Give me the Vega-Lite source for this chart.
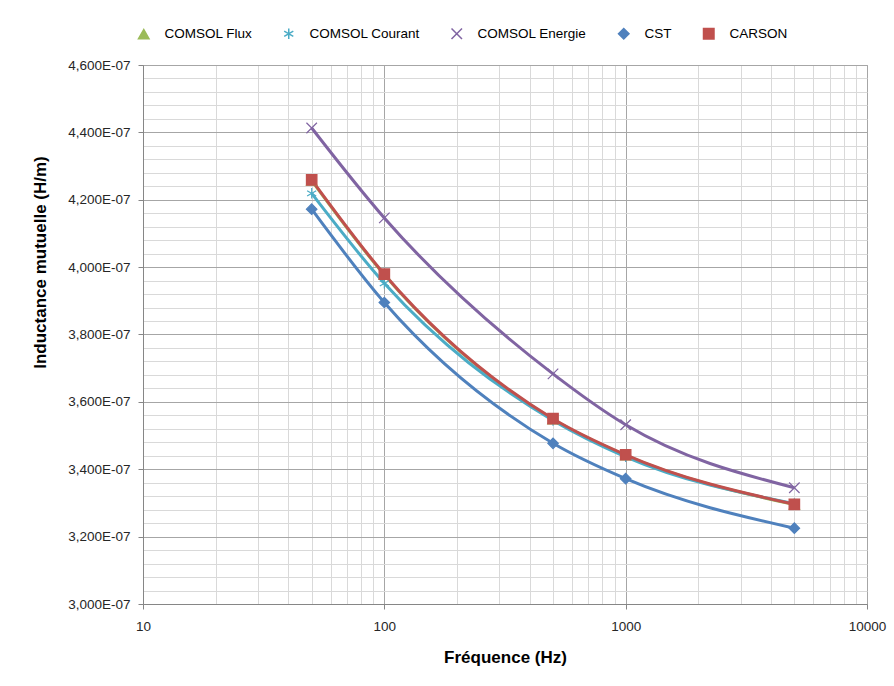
{
  "$schema": "https://vega.github.io/schema/vega-lite/v6.json",
  "width": 724,
  "height": 539,
  "autosize": "none",
  "padding": {"left": 143, "top": 65, "right": 27, "bottom": 82},
  "background": "white",
  "config": {
    "view": {"stroke": "#a6a6a6", "strokeWidth": 1},
    "font": "Liberation Sans"
  },
  "data": {
    "values": [
      {"series": "COMSOL Flux", "f": 50, "L": 4.257e-7},
      {"series": "COMSOL Flux", "f": 100, "L": 3.977e-7},
      {"series": "COMSOL Flux", "f": 500, "L": 3.548e-7},
      {"series": "COMSOL Flux", "f": 1000, "L": 3.441e-7},
      {"series": "COMSOL Flux", "f": 5000, "L": 3.295e-7},
      {"series": "COMSOL Courant", "f": 50, "L": 4.219e-7},
      {"series": "COMSOL Courant", "f": 100, "L": 3.952e-7},
      {"series": "COMSOL Courant", "f": 500, "L": 3.545e-7},
      {"series": "COMSOL Courant", "f": 1000, "L": 3.437e-7},
      {"series": "COMSOL Courant", "f": 5000, "L": 3.298e-7},
      {"series": "COMSOL Energie", "f": 50, "L": 4.413e-7},
      {"series": "COMSOL Energie", "f": 100, "L": 4.146e-7},
      {"series": "COMSOL Energie", "f": 500, "L": 3.683e-7},
      {"series": "COMSOL Energie", "f": 1000, "L": 3.532e-7},
      {"series": "COMSOL Energie", "f": 5000, "L": 3.345e-7},
      {"series": "CST", "f": 50, "L": 4.172e-7},
      {"series": "CST", "f": 100, "L": 3.895e-7},
      {"series": "CST", "f": 500, "L": 3.477e-7},
      {"series": "CST", "f": 1000, "L": 3.372e-7},
      {"series": "CST", "f": 5000, "L": 3.225e-7},
      {"series": "CARSON", "f": 50, "L": 4.259e-7},
      {"series": "CARSON", "f": 100, "L": 3.979e-7},
      {"series": "CARSON", "f": 500, "L": 3.550e-7},
      {"series": "CARSON", "f": 1000, "L": 3.443e-7},
      {"series": "CARSON", "f": 5000, "L": 3.296e-7}
    ]
  },
  "encoding": {
    "x": {
      "field": "f", "type": "quantitative",
      "scale": {"type": "log", "domain": [10, 10000], "nice": false},
      "axis": {
        "title": "Fréquence (Hz)",
        "titleFontSize": 17, "titleFontWeight": "bold", "titleColor": "#000", "titlePadding": 17,
        "values": [10,20,30,40,50,60,70,80,90,100,200,300,400,500,600,700,800,900,1000,2000,3000,4000,5000,6000,7000,8000,9000,10000],
        "labelExpr": "abs(log(datum.value)/LN10 - round(log(datum.value)/LN10)) < 1e-6 ? format(datum.value, 'd') : ''",
        "labelFontSize": 13.5, "labelColor": "#262626", "labelPadding": 10, "labelFlush": false,
        "domainColor": "#868686",
        "tickColor": "#868686",
        "tickSize": {"condition": {"test": "abs(log(datum.value)/LN10 - round(log(datum.value)/LN10)) < 1e-6", "value": 5}, "value": 0},
        "grid": true,
        "gridColor": {"condition": {"test": "abs(log(datum.value)/LN10 - round(log(datum.value)/LN10)) < 1e-6", "value": "#a6a6a6"}, "value": "#d9d9d9"},
        "gridOpacity": 1
      }
    },
    "y": {
      "field": "L", "type": "quantitative",
      "scale": {"domain": [3.0e-7, 4.6e-7], "nice": false, "zero": false},
      "axis": {
        "title": "Inductance mutuelle (H/m)",
        "titleFontSize": 17, "titleFontWeight": "bold", "titleColor": "#000",
        "titleX": -94, "titleY": 197,
        "values": [3.0e-7,3.04e-7,3.08e-7,3.12e-7,3.16e-7,3.2e-7,3.24e-7,3.28e-7,3.32e-7,3.36e-7,3.4e-7,3.44e-7,3.48e-7,3.52e-7,3.56e-7,3.6e-7,3.64e-7,3.68e-7,3.72e-7,3.76e-7,3.8e-7,3.84e-7,3.88e-7,3.92e-7,3.96e-7,4.0e-7,4.04e-7,4.08e-7,4.12e-7,4.16e-7,4.2e-7,4.24e-7,4.28e-7,4.32e-7,4.36e-7,4.4e-7,4.44e-7,4.48e-7,4.52e-7,4.56e-7,4.6e-7],
        "labelExpr": "abs(datum.value*5e7 - round(datum.value*5e7)) < 1e-4 ? replace(format(datum.value*1e7, '.3f'), '.', ',') + 'E-07' : ''",
        "labelFontSize": 13.5, "labelColor": "#262626", "labelPadding": 8,
        "domainColor": "#868686",
        "tickColor": "#868686",
        "tickSize": {"condition": {"test": "abs(datum.value*5e7 - round(datum.value*5e7)) < 1e-4", "value": 5}, "value": 0},
        "grid": true,
        "gridColor": {"condition": {"test": "abs(datum.value*5e7 - round(datum.value*5e7)) < 1e-4", "value": "#a6a6a6"}, "value": "#d9d9d9"},
        "gridOpacity": 1
      }
    },
    "color": {
      "field": "series", "type": "nominal",
      "scale": {
        "domain": ["COMSOL Flux", "COMSOL Courant", "COMSOL Energie", "CST", "CARSON"],
        "range": ["#9BBB59", "#4BACC6", "#8064A2", "#4F81BD", "#C0504D"]
      },
      "sort": null,
      "legend": {
        "title": null,
        "orient": "none",
        "direction": "horizontal",
        "legendX": -6,
        "legendY": -38,
        "padding": 0,
        "labelFontSize": 13.5,
        "labelColor": "#000",
        "labelOffset": 14,
        "columnPadding": 28,
        "symbolSize": 110,
        "symbolStrokeWidth": 1.5,
        "symbolOpacity": 1
      }
    }
  },
  "layer": [
    {
      "mark": {"type": "line", "interpolate": "monotone", "strokeWidth": 3},
      "encoding": {"order": {"field": "f", "type": "quantitative"}}
    },
    {
      "mark": {"type": "point", "filled": true, "size": 110, "strokeWidth": 1.2, "opacity": 1},
      "encoding": {
        "shape": {
          "field": "series", "type": "nominal",
          "scale": {
            "domain": ["COMSOL Flux", "COMSOL Courant", "COMSOL Energie", "CST", "CARSON"],
            "range": [
              "triangle-up",
              "M0,-1V1M-0.87,-0.5L0.87,0.5M-0.87,0.5L0.87,-0.5",
              "M-1,-1L1,1M-1,1L1,-1",
              "diamond",
              "square"
            ]
          },
          "legend": null
        },
        "stroke": {
          "field": "series", "type": "nominal",
          "scale": {
            "domain": ["COMSOL Flux", "COMSOL Courant", "COMSOL Energie", "CST", "CARSON"],
            "range": ["#9BBB59", "#4BACC6", "#8064A2", "#4F81BD", "#C0504D"]
          },
          "legend": null
        }
      }
    }
  ]
}
